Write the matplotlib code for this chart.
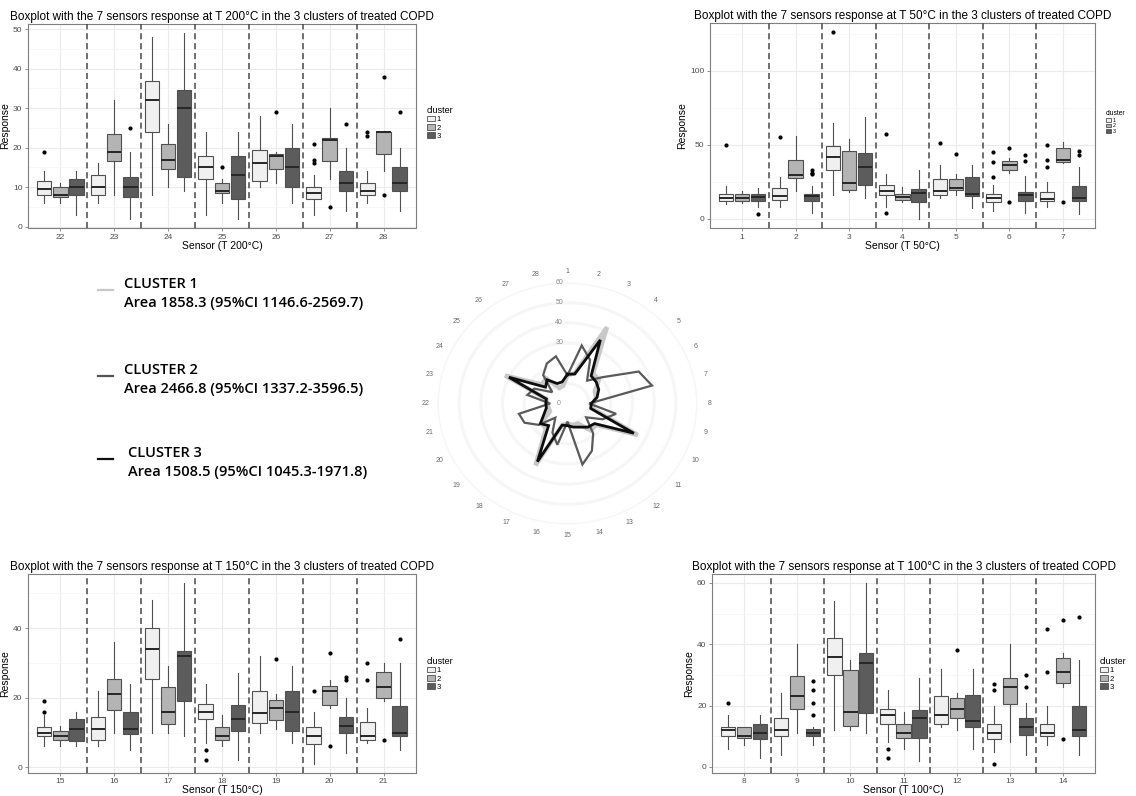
import matplotlib.pyplot as plt
import numpy as np
from matplotlib.patches import Patch
from matplotlib.lines import Line2D

plt.rcParams['font.family'] = ['Liberation Sans', 'DejaVu Sans']

# five-number summaries per sensor: (whisker low, q1, median, q3, whisker high)
# ---- T 50 C, sensors 1-7
sens50 = [1, 2, 3, 4, 5, 6, 7]
t50_c1 = [(10, 12, 14, 16.5, 22), (8, 12.5, 15.5, 21, 28), (16, 33, 42, 49, 65), (8, 16, 19, 23, 30),
          (14, 16, 18.5, 26.5, 36), (5, 11, 14, 16.5, 23), (8, 12, 13.5, 18, 25)]
t50_c2 = [(10.5, 12, 14, 17, 18.5), (19, 27.5, 29.5, 39.5, 56), (18, 19.5, 24, 45.5, 54), (11, 12.5, 14.5, 16.5, 21.5),
          (16, 19.5, 21, 27, 30), (31, 33, 36.5, 39, 41), (37.5, 38.5, 40, 47.5, 52)]
t50_c3 = [(8, 12, 14.5, 16.5, 21), (4, 12, 15, 17, 22), (14, 22.5, 35, 44.5, 69), (0, 11, 17.5, 20, 33),
          (7, 15, 17, 28, 36), (4, 12, 16, 18, 29), (3, 12, 14, 22, 35)]
t50_out1 = [[50], [55], [126], [57, 4], [51], [45, 38, 28], [50, 40, 35]]
t50_out2 = [[], [], [], [], [44], [48, 11], [11]]
t50_out3 = [[3], [33, 31, 30], [], [], [], [43, 39], [46, 43]]

# ---- T 100 C, sensors 8-14
sens100 = [8, 9, 10, 11, 12, 13, 14]
t100_c1 = [(6, 10, 12, 13, 17), (4, 10, 12, 16, 24), (12, 30, 36, 42, 54), (8, 14, 17, 19, 25),
           (13, 14, 17, 23, 32), (5, 9, 11, 14, 20), (7, 10, 11, 14, 20)]
t100_c2 = [(7, 9.5, 10, 13, 13), (11, 19, 23, 29.5, 40), (12, 13.5, 18, 31.5, 35), (6, 9.5, 11, 14, 18),
           (12, 16, 19, 22.5, 24), (8, 20.5, 26, 29, 40), (26, 27.5, 31, 35.5, 37)]
t100_c3 = [(3, 9, 11, 14, 17), (7, 10, 11, 12.5, 13), (11, 17.5, 34, 37, 60), (2, 9.5, 16, 18.5, 29),
           (6, 13, 15, 23.5, 32), (4, 10.5, 13, 16, 21), (4, 10, 12, 20, 35)]
t100_out1 = [[21], [], [], [6, 3], [], [27, 25, 1], [45, 31]]
t100_out2 = [[], [], [], [], [38], [], [48, 9]]
t100_out3 = [[], [28, 25, 21, 17], [], [], [], [30, 26], [49]]

# ---- T 150 C, sensors 15-21
sens150 = [15, 16, 17, 18, 19, 20, 21]
t150_c1 = [(6, 9, 10, 11.5, 15), (6, 8, 11, 14.5, 22), (10, 25.5, 34, 40, 48), (7, 14, 16, 18.2, 24),
           (10, 12.8, 15.5, 22, 32), (1, 6.8, 9, 11.7, 16), (7, 8, 9, 13, 17)]
t150_c2 = [(6, 8, 9, 10.5, 12), (10, 16.5, 21, 25.5, 36), (10, 12.5, 16, 23, 29), (6, 8, 9, 11.5, 15),
           (11, 13.5, 17, 19.5, 21), (17, 18, 22, 23.5, 25), (19, 20, 23, 27.5, 30)]
t150_c3 = [(6, 7.5, 11, 14, 16), (5, 9.5, 11, 16, 24), (9, 19, 32, 33.5, 53), (2, 10.5, 14, 18, 27),
           (7, 10.5, 16, 22, 29), (4, 10, 12, 14.5, 20), (5, 9, 10, 17.5, 30)]
t150_out1 = [[19, 16], [], [], [5, 2], [], [22], [30, 25]]
t150_out2 = [[], [], [], [], [31], [33, 6], [8]]
t150_out3 = [[], [], [], [], [], [26, 25], [37]]

# ---- T 200 C, sensors 22-28
sens200 = [22, 23, 24, 25, 26, 27, 28]
t200_c1 = [(6, 8, 9.5, 11.5, 14), (6, 8, 10, 13, 16), (8, 24, 32, 37, 48), (3, 12, 15, 18, 24),
           (10, 11.5, 16, 19.3, 28), (3, 7, 8.5, 10, 13), (6, 8, 9, 11, 14)]
t200_c2 = [(6, 7.5, 8, 10, 11), (8, 16.5, 19, 23.5, 32), (10, 14.5, 17, 21, 26), (6, 8.5, 9, 11, 12),
           (11, 14.5, 18, 18.5, 19), (12, 16.5, 22, 22.5, 30), (14, 18.5, 24, 24, 24)]
t200_c3 = [(3, 8, 10, 12, 14), (2, 7.5, 10, 12.5, 19), (9, 12.5, 30, 34.5, 49), (2, 7, 13, 18, 24),
           (6, 10, 15, 20, 26), (4, 9, 11, 14, 20), (4, 9, 11, 15, 20)]
t200_out1 = [[19], [], [], [], [], [21, 17, 16], [24, 23]]
t200_out2 = [[], [], [], [15], [29], [5], [38, 8]]
t200_out3 = [[], [25], [], [], [], [26], [29]]

area_text = ['Area 1858.3 (95%CI 1146.6-2569.7)',
             'Area 2466.8 (95%CI 1337.2-3596.5)',
             'Area 1508.5 (95%CI 1045.3-1971.8)']

fills = ['#f0f0f0', '#b4b4b4', '#5c5c5c']
edge = '#505050'

fig = plt.figure(figsize=(11.36, 7.96), dpi=100)


def boxpanel(rect, sensors, stats, outs, major, minor, temp, leg_xy, leg_fs):
    ax = fig.add_axes(rect)
    pos = np.array(sensors, dtype=float)
    for k in range(3):
        bx = [dict(whislo=s[0], q1=s[1], med=s[2], q3=s[3], whishi=s[4], fliers=f)
              for s, f in zip(stats[k], outs[k])]
        ax.bxp(bx, positions=pos + (k - 1) * 0.3, widths=0.27, patch_artist=True,
               showcaps=False, manage_ticks=False,
               boxprops=dict(facecolor=fills[k], edgecolor=edge, linewidth=0.8),
               whiskerprops=dict(color=edge, linewidth=0.8),
               medianprops=dict(color='#262626', linewidth=1.4),
               flierprops=dict(marker='o', markersize=2.0, markerfacecolor='k',
                               markeredgecolor='k'))
    for s in sensors[:-1]:
        ax.axvline(s + 0.5, color='#484848', lw=1.1, ls=(0, (4, 2.5)), zorder=3)
    ax.set_xlim(sensors[0] - 0.6, sensors[-1] + 0.6)
    ax.set_xticks(sensors)
    ax.set_xticklabels([str(s) for s in sensors])
    ax.set_yticks(major)
    ax.set_yticks(minor, minor=True)
    ax.grid(which='major', color='#ebebeb', lw=0.8)
    ax.grid(which='minor', axis='y', color='#f4f4f4', lw=0.5)
    ax.set_axisbelow(True)
    for sp in ax.spines.values():
        sp.set_color('#7f7f7f')
        sp.set_linewidth(0.8)
    ax.tick_params(colors='#7f7f7f', labelcolor='#4d4d4d', length=2.5, width=0.6,
                   labelsize=6, pad=1.5)
    ax.tick_params(which='minor', length=0)
    ax.set_title('Boxplot with the 7 sensors response at T %s\u00b0C in the 3 clusters of treated COPD' % temp,
                 fontsize=8.45, pad=3)
    ax.set_ylabel('Response', fontsize=7.5, labelpad=2)
    ax.set_xlabel('Sensor (T %s\u00b0C)' % temp, fontsize=7.5, labelpad=0)
    hs = [Patch(facecolor=fills[k], edgecolor=edge, lw=0.6, label=str(k + 1)) for k in range(3)]
    fig.legend(handles=hs, title='cluster', loc='upper left', bbox_to_anchor=leg_xy,
               frameon=False, fontsize=leg_fs, title_fontsize=leg_fs + 1,
               handlelength=1.0, handleheight=0.7, handletextpad=0.3, labelspacing=0.12,
               borderaxespad=0, borderpad=0, alignment='left')
    return ax


boxpanel([0.0246, 0.7136, 0.3415, 0.2563], sens200, [t200_c1, t200_c2, t200_c3],
         [t200_out1, t200_out2, t200_out3], np.arange(0, 51, 10), np.arange(5, 51, 10),
         '200', (0.3759, 0.8668), 5.5)
boxpanel([0.625, 0.7136, 0.3389, 0.2575], sens50, [t50_c1, t50_c2, t50_c3],
         [t50_out1, t50_out2, t50_out3], [0, 50, 100], [25, 75, 125],
         '50', (0.9736, 0.8618), 3.8)
boxpanel([0.0246, 0.0290, 0.3415, 0.2500], sens150, [t150_c1, t150_c2, t150_c3],
         [t150_out1, t150_out2, t150_out3], [0, 20, 40], [10, 30, 50],
         '150', (0.3759, 0.1746), 5.5)
boxpanel([0.6268, 0.0290, 0.3371, 0.2500], sens100, [t100_c1, t100_c2, t100_c3],
         [t100_out1, t100_out2, t100_out3], [0, 20, 40, 60], [10, 30, 50],
         '100', (0.9683, 0.1746), 5.5)

# ---- radar of the medians, sensors 1..28
sensors_all = sens50 + sens100 + sens150 + sens200
med_c1 = [s[2] for s in t50_c1 + t100_c1 + t150_c1 + t200_c1]
med_c2 = [s[2] for s in t50_c2 + t100_c2 + t150_c2 + t200_c2]
med_c3 = [s[2] for s in t50_c3 + t100_c3 + t150_c3 + t200_c3]

rax = fig.add_axes([0.3851, 0.3411, 0.2289, 0.3040], projection='polar')
rax.set_theta_zero_location('N')
rax.set_theta_direction(-1)
rax.set_aspect('auto')
rax.set_ylim(0, 60)
rax.set_facecolor('none')
rax.spines['polar'].set_visible(False)
ang = 2 * np.pi * (np.array(sensors_all) - 1) / len(sensors_all)
rax.set_xticks(ang)
rax.set_xticklabels([])
rax.xaxis.grid(False)
rax.set_yticks(np.arange(10, 61, 10))
rax.set_yticklabels([])
rax.yaxis.grid(True, color='#f6f6f6', lw=2.2)
rax.tick_params(length=0)
closed = np.append(ang, ang[0])
for vals, col, lw in [(med_c1, '#c8c8c8', 3.2), (med_c2, '#5a5a5a', 1.6), (med_c3, '#0d0d0d', 2.0)]:
    rax.plot(closed, np.append(vals, vals[0]), color=col, lw=lw, solid_joinstyle='miter')
for a, s in zip(ang, sensors_all):
    rax.text(a, 65.5, str(s), ha='center', va='center', fontsize=5, color='#6a6a6a', clip_on=False)
for v in [0, 30, 40, 50, 60]:
    rax.annotate(str(v), xy=(0, v), xytext=(-6, 0), textcoords='offset points',
                 ha='center', va='center', fontsize=5, color='#8a8a8a')

# ---- cluster text block
cl_col = ['#c8c8c8', '#555555', '#111111']
cl_y = [284, 370, 453]
area_y = [303, 389, 472]
txt_x = [124, 124, 128]
for k in range(3):
    fig.add_artist(Line2D([98 / 1136, 113 / 1136], [1 - (cl_y[k] + 6) / 796] * 2,
                          color=cl_col[k], lw=1.6, transform=fig.transFigure))
    fig.text(txt_x[k] / 1136, 1 - cl_y[k] / 796, 'CLUSTER %d' % (k + 1), fontsize=10.5,
             family=['Open Sans', 'DejaVu Sans'], weight='semibold', va='center', ha='left')
    fig.text(txt_x[k] / 1136, 1 - area_y[k] / 796, area_text[k], fontsize=10.5,
             family=['Open Sans', 'DejaVu Sans'], weight='semibold', va='center', ha='left')

fig.savefig('out.png', dpi=100)
